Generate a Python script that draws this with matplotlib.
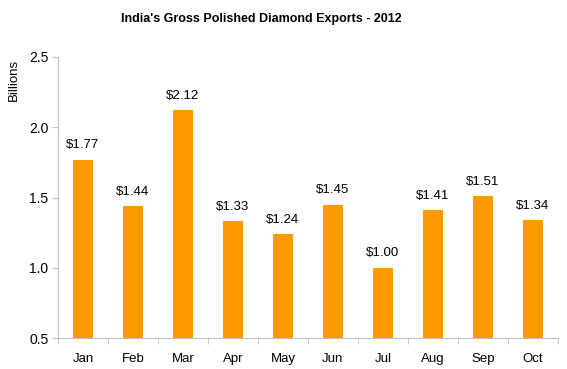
import numpy as np
import matplotlib
matplotlib.use("Agg")
import matplotlib.pyplot as plt

months = ['Jan', 'Feb', 'Mar', 'Apr', 'May', 'Jun', 'Jul', 'Aug', 'Sep', 'Oct']
exports = [1.77, 1.44, 2.12, 1.33, 1.24, 1.45, 1.00, 1.41, 1.51, 1.34]
yticks = [0.5, 1.0, 1.5, 2.0, 2.5]

plt.rcParams['font.family'] = ['Liberation Sans', 'DejaVu Sans']

fig = plt.figure(figsize=(5.67, 3.69), dpi=100)
ax = fig.add_axes([58 / 567, 1 - 338 / 369, 500 / 567, 281 / 369])

x = np.arange(len(months))
bars = ax.bar(x, exports, width=0.4, color='#FF9900', zorder=2)

for xi, v in zip(x, exports):
    ax.annotate('$%.2f' % v, (xi, v), xytext=(0, 6), textcoords='offset points',
                ha='center', va='bottom', fontsize=9.5)

ax.set_xlim(-0.5, len(months) - 0.5)
ax.set_ylim(0.5, 2.5)
ax.set_yticks(yticks)
ax.set_yticklabels(['%.1f' % t for t in yticks], fontsize=10)

ax.set_xticks(x)
ax.set_xticklabels(months, fontsize=9.5)
ax.tick_params(axis='x', length=0, pad=11)
ax.set_xticks(np.arange(len(months) + 1) - 0.5, minor=True)
ax.tick_params(axis='x', which='minor', length=4, color='#BFBFBF', direction='out')
ax.tick_params(axis='y', length=4, color='#BFBFBF', pad=3)

for s in ['top', 'right']:
    ax.spines[s].set_visible(False)
for s in ['left', 'bottom']:
    ax.spines[s].set_color('#BFBFBF')

ax.set_ylabel('Billions', fontsize=9.5)
ax.yaxis.set_label_coords(-0.076, 0.92)

fig.suptitle("India's Gross Polished Diamond Exports - 2012", x=261 / 567, y=0.965,
             fontsize=9, fontweight='bold')

plt.savefig('out.png', dpi=100)
